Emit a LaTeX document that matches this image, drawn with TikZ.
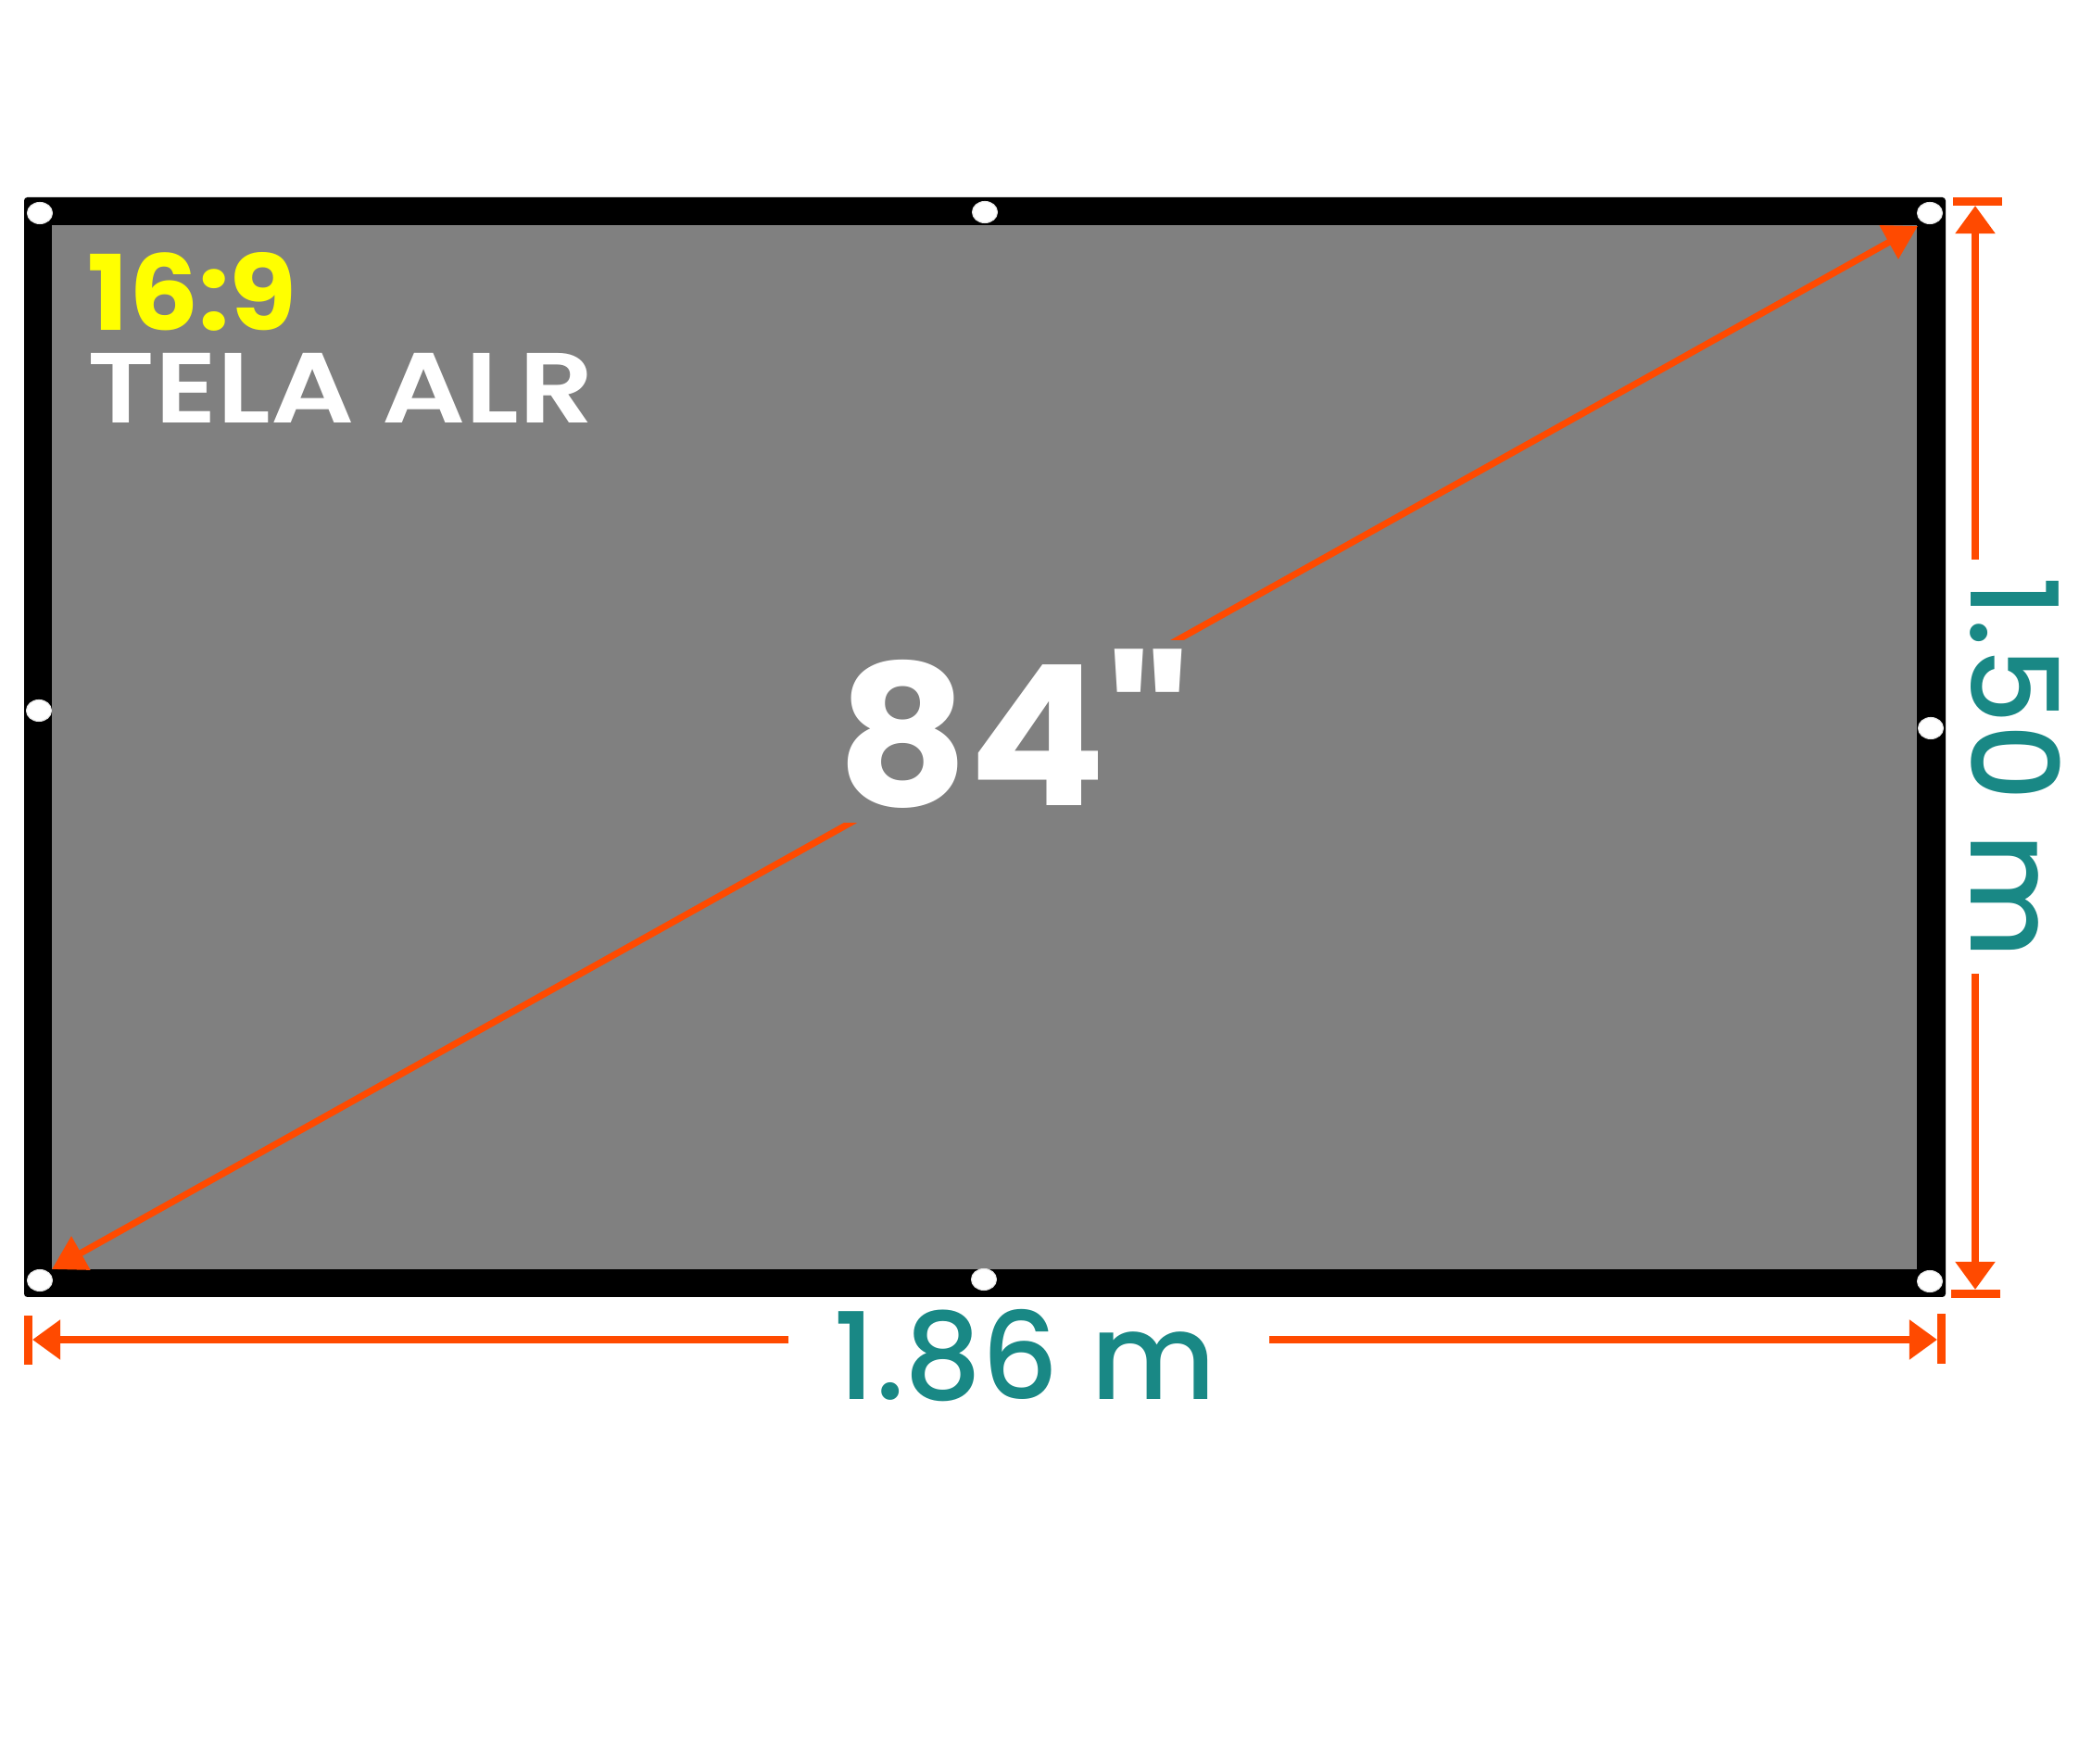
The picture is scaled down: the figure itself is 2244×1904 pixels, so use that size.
\documentclass[tikz,border=0pt]{standalone}
\usepackage{fontspec}
\usetikzlibrary{arrows.meta,shapes.geometric}
\newfontfamily\popb{Poppins}[UprightFont=* Bold]
\newfontfamily\popsb{Poppins}[UprightFont=* SemiBold]
\newfontfamily\popm{Poppins}[UprightFont=* Medium]
\definecolor{scrgray}{HTML}{808080}
\definecolor{dimorange}{HTML}{FF4A00}
\definecolor{dimteal}{HTML}{198885}
\definecolor{ratioyellow}{HTML}{FFFF00}
\tikzset{
  diaghead/.tip={Triangle[length=10.2pt,width=11.4pt]},
  dimhead/.tip={Triangle[length=8.6pt,width=11.8pt]},
}
\begin{document}
\begin{tikzpicture}[x=0.01cm,y=-0.01cm,
  grommet/.style={ellipse,fill=white,draw=black!10,line width=0.3pt,minimum width=0.27cm,minimum height=0.23cm,inner sep=0pt},
  diagline/.style={draw=dimorange,line width=2pt},
  dimline/.style={draw=dimorange,line width=2.3pt},
  dimtext/.style={text=dimteal,inner sep=0pt,font=\popm\fontsize{37}{37}\selectfont},
]
\useasboundingbox (0,0) rectangle (2244,1904);
\fill[white] (0,0) rectangle (2244,1904);
% screen frame
\fill[black,rounded corners=1pt] (26,213) rectangle (2100,1400);
\fill[scrgray] (56,243) rectangle (2069,1370);
% grommets
\node[grommet] (g1) at (43,230) {};
\node[grommet] (g2) at (1063,229) {};
\node[grommet] (g3) at (2083,230) {};
\node[grommet] (g4) at (42,767) {};
\node[grommet] (g5) at (2084,786) {};
\node[grommet] (g6) at (43,1382) {};
\node[grommet] (g7) at (1062,1381) {};
\node[grommet] (g8) at (2083,1383) {};
% diagonal
\coordinate (dl) at (56,1370);
\coordinate (ur) at (2070,244);
\draw[diagline,diaghead-diaghead] (dl) -- (ur);
\fill[scrgray] (880,691) rectangle (1300,888);
\node[text=white,inner sep=0pt,anchor=base,xscale=1.04,font=\popb\fontsize{60}{60}\selectfont] (diag) at (1094,870) {84"};
% labels
\node[text=ratioyellow,inner sep=0pt,anchor=base west,xscale=1.05,font=\popb\fontsize{32}{32}\selectfont] (ratio) at (94,357) {16:9};
\node[text=white,inner sep=0pt,anchor=base west,xscale=1.17,font=\popsb\fontsize{30.6}{30.6}\selectfont] (tela) at (94,457) {TELA ALR};
% vertical dimension
\coordinate (vt) at (2132,222);
\coordinate (vb) at (2132,1392);
\coordinate (vgt) at (2132,604);
\coordinate (vgb) at (2132,1051);
\draw[dimline,-dimhead] (vgt) -- (vt);
\draw[dimline,-dimhead] (vgb) -- (vb);
\fill[dimorange] (2108,213) rectangle (2161,222);
\fill[dimorange] (2106,1392) rectangle (2159,1401);
\node[dimtext,rotate=-90,anchor=base] (hgt) at (2127,828) {1.50 m};
% horizontal dimension
\coordinate (hl) at (35,1446);
\coordinate (hr) at (2091,1446);
\coordinate (hgl) at (851,1446);
\coordinate (hgr) at (1370,1446);
\draw[dimline,-dimhead] (hgl) -- (hl);
\draw[dimline,-dimhead] (hgr) -- (hr);
\fill[dimorange] (26,1420) rectangle (35,1473);
\fill[dimorange] (2091,1418) rectangle (2100,1472);
\node[dimtext,anchor=base] (wid) at (1106,1511) {1.86 m};
\end{tikzpicture}
\end{document}
